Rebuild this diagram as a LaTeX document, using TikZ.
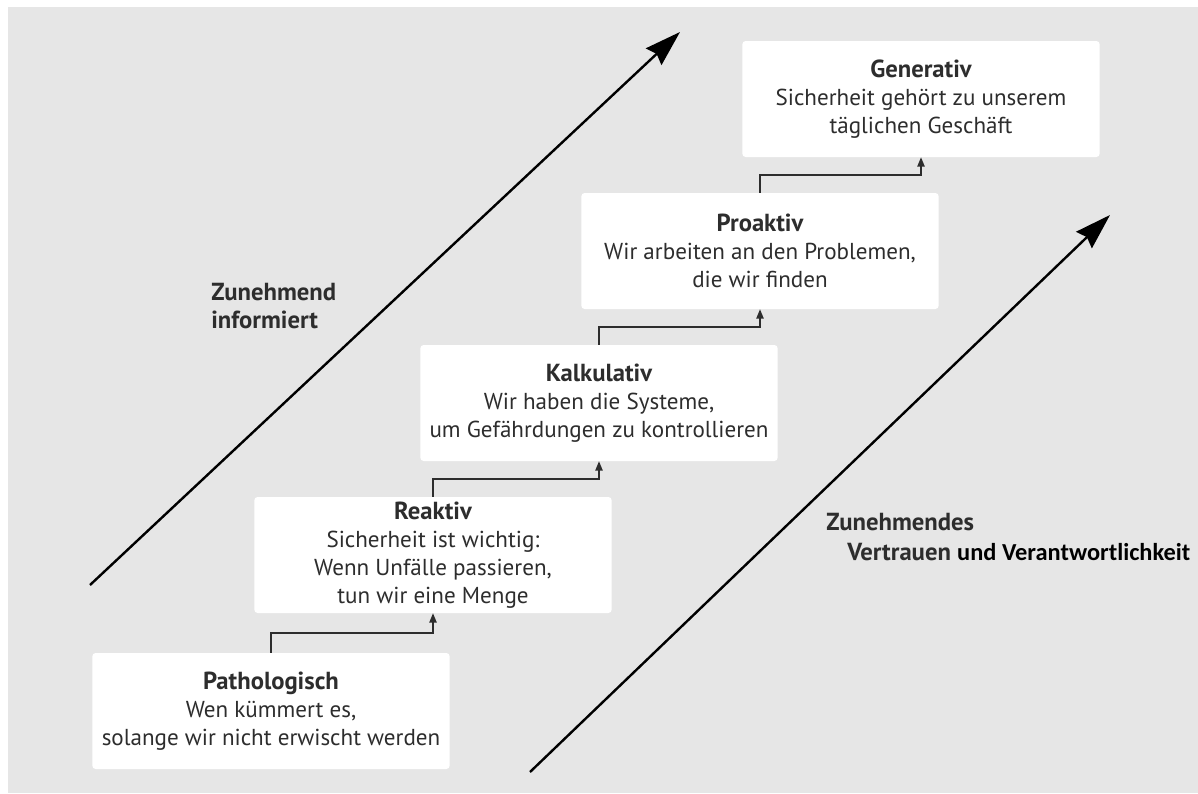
\documentclass[tikz,border=0pt]{standalone}
\usepackage{fontspec}
\setmainfont{PT Sans}
\newfontfamily\calibrifont{Carlito}
\usepackage{tikz}
\usetikzlibrary{arrows.meta,positioning,calc}
\definecolor{bground}{RGB}{230,230,230}
\definecolor{txtgray}{RGB}{45,45,45}
\newcommand{\stitel}[1]{{\bfseries\fontsize{18.5}{21}\selectfont #1}}

\begin{document}
\begin{tikzpicture}[x=0.75pt,y=-0.75pt,
    stufe/.style={fill=white,rounded corners=2.5pt,minimum width=268pt,minimum height=87pt,
                  inner sep=0pt,align=center,text=txtgray,font=\fontsize{17.3}{21}\selectfont},
    lbl/.style={inner sep=0pt,text=txtgray,font=\bfseries\fontsize{18.5}{21}\selectfont},
    pfeil/.style={-{Triangle[length=7pt,width=5.5pt]},line width=1pt,draw=txtgray},
    trend/.style={-{Stealth[length=27pt,width=17pt,inset=3pt]},line width=1.8pt}]
  \useasboundingbox (0,0) rectangle (1198,793);
  \fill[bground] (8,7) rectangle (1198,793);
  % die fuenf Stufen
  \node[stufe] (patho) at (271,711) {\stitel{Pathologisch}\\Wen kümmert es,\\solange wir nicht erwischt werden};
  \node[stufe] (reakt) at (433,555) {\stitel{Reaktiv}\\Sicherheit ist wichtig:\\Wenn Unfälle passieren,\\tun wir eine Menge};
  \node[stufe] (kalk) at (599,403) {\stitel{Kalkulativ}\\Wir haben die Systeme,\\um Gefährdungen zu kontrollieren};
  \node[stufe] (proakt) at (760,251) {\stitel{Proaktiv}\\Wir arbeiten an den Problemen,\\die wir finden};
  \node[stufe] (gener) at (921,99) {\stitel{Generativ}\\Sicherheit gehört zu unserem\\täglichen Geschäft};
  \foreach \a/\b in {patho/reakt,reakt/kalk,kalk/proakt,proakt/gener}
    \draw[pfeil] (\a.north) |- ($(\a.north)!.5!(\b.south)$) -| (\b.south);
  % die zwei grossen Pfeile
  \coordinate (infoA) at (90,585);
  \coordinate (infoB) at (680,32);
  \coordinate (vertrA) at (530,772);
  \coordinate (vertrB) at (1110,215);
  \draw[trend] (infoA) -- (infoB);
  \draw[trend] (vertrA) -- (vertrB);
  \node[lbl,anchor=west,align=left] (info) at (211,306) {Zunehmend\\informiert};
  \node[lbl,anchor=west] (zun) at (826,522) {Zunehmendes};
  \node[lbl,anchor=west] (vertr) at (847,552) {Vertrauen {\calibrifont\color{black}\fontsize{18.3}{21}\selectfont und Verantwortlichkeit}};
\end{tikzpicture}
\end{document}
